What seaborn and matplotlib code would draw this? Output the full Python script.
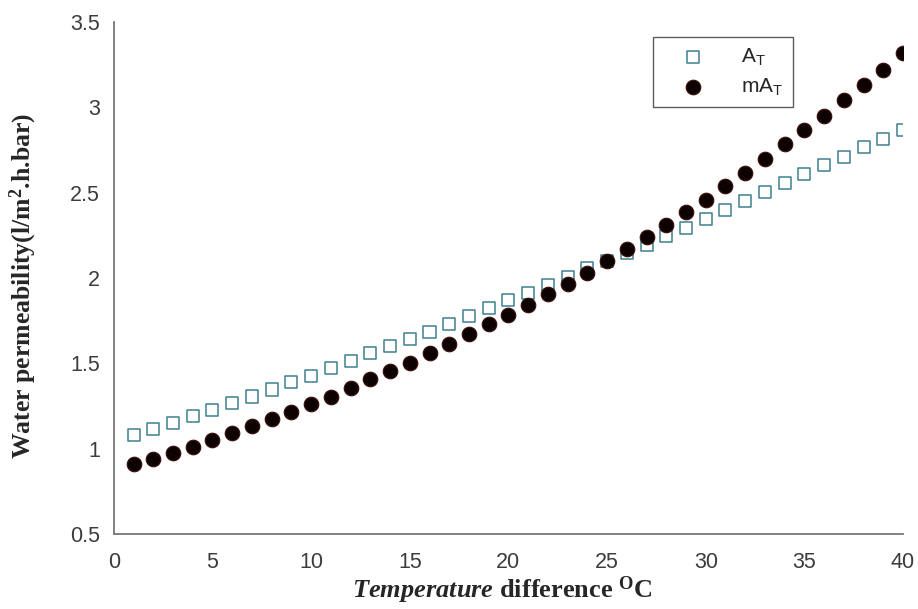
import matplotlib
matplotlib.use("Agg")
import matplotlib.pyplot as plt
import seaborn as sns
import pandas as pd

temp_diff = list(range(1, 41))
a_t = [1.08, 1.115, 1.152, 1.19, 1.226, 1.269, 1.306, 1.347, 1.389, 1.425,
       1.471, 1.513, 1.558, 1.599, 1.645, 1.686, 1.73, 1.777, 1.822, 1.871,
       1.914, 1.959, 2.007, 2.056, 2.10, 2.144, 2.193, 2.246, 2.294, 2.345,
       2.398, 2.45, 2.501, 2.554, 2.609, 2.662, 2.71, 2.765, 2.814, 2.867]
ma_t = [0.910, 0.939, 0.976, 1.011, 1.051, 1.090, 1.133, 1.175, 1.213, 1.262,
        1.304, 1.354, 1.406, 1.455, 1.504, 1.558, 1.615, 1.672, 1.729, 1.783,
        1.842, 1.904, 1.965, 2.031, 2.099, 2.168, 2.240, 2.312, 2.388, 2.457,
        2.539, 2.617, 2.695, 2.783, 2.867, 2.949, 3.043, 3.13, 3.218, 3.32]
series_labels = [r"$\mathregular{A_T}$", r"$\mathregular{mA_T}$"]
x_ticks = [0, 5, 10, 15, 20, 25, 30, 35, 40]
y_ticks = [0.5, 1, 1.5, 2, 2.5, 3, 3.5]
y_tick_labels = ["0.5", "1", "1.5", "2", "2.5", "3", "3.5"]

sns.set_style("white")
plt.rcParams["font.family"] = ["Liberation Sans", "DejaVu Sans"]
plt.rcParams["mathtext.fontset"] = "custom"
plt.rcParams["mathtext.rm"] = "Liberation Serif"
plt.rcParams["mathtext.bf"] = "Liberation Serif:bold"
plt.rcParams["mathtext.it"] = "Liberation Serif:italic"
plt.rcParams["mathtext.bfit"] = "Liberation Serif:bold:italic"

fig = plt.figure(figsize=(9.18, 6.09), dpi=100)
ax = fig.add_axes([0.124, 0.123, 0.8597, 0.841])

df_a = pd.DataFrame({"x": temp_diff, "y": a_t})
df_m = pd.DataFrame({"x": temp_diff, "y": ma_t})

sns.scatterplot(data=df_a, x="x", y="y", ax=ax, marker="s", s=75,
                facecolor="none", edgecolor="#3f8090", linewidth=1.1,
                label=series_labels[0])
sns.scatterplot(data=df_m, x="x", y="y", ax=ax, marker="o", s=110,
                color="#0c0202", edgecolor="#3a0c08", linewidth=0.8,
                label=series_labels[1])

ax.set_xlim(0, 40)
ax.set_ylim(0.5, 3.5)
ax.set_xticks(x_ticks)
ax.set_xticklabels([str(t) for t in x_ticks])
ax.set_yticks(y_ticks)
ax.set_yticklabels(y_tick_labels)

for side in ["top", "right"]:
    ax.spines[side].set_visible(False)
for side in ["left", "bottom"]:
    ax.spines[side].set_color("#777777")
    ax.spines[side].set_linewidth(1.3)

ax.tick_params(direction="in", length=5, width=1, colors="#777777",
               labelcolor="#3c3c3c", labelsize=15.5, pad=10)
ax.tick_params(axis="x", pad=13)

ax.set_xlabel("")
ax.set_ylabel("")

leg = ax.legend(loc="upper left", bbox_to_anchor=(0.683, 0.97),
                frameon=True, fancybox=False, fontsize=15,
                handlelength=3.0, handletextpad=0.8, borderpad=0.45,
                labelspacing=0.4, borderaxespad=0)
leg.get_frame().set_edgecolor("#333333")
leg.get_frame().set_linewidth(1.0)

fig.text(0.547, 0.030,
         r"$\mathbfit{Temperature}$" + r" $\mathbf{difference}$ $\mathbf{^{O}C}$",
         ha="center", va="center", fontsize=19, family="Liberation Serif")

fig.text(0.025, 0.53,
         r"Water permeability(l/m$\mathbf{^{2}}$.h.bar)",
         rotation=90, ha="center", va="center", fontsize=18.5,
         family="Liberation Serif", fontweight="bold")

fig.savefig("out.png", dpi=100)
